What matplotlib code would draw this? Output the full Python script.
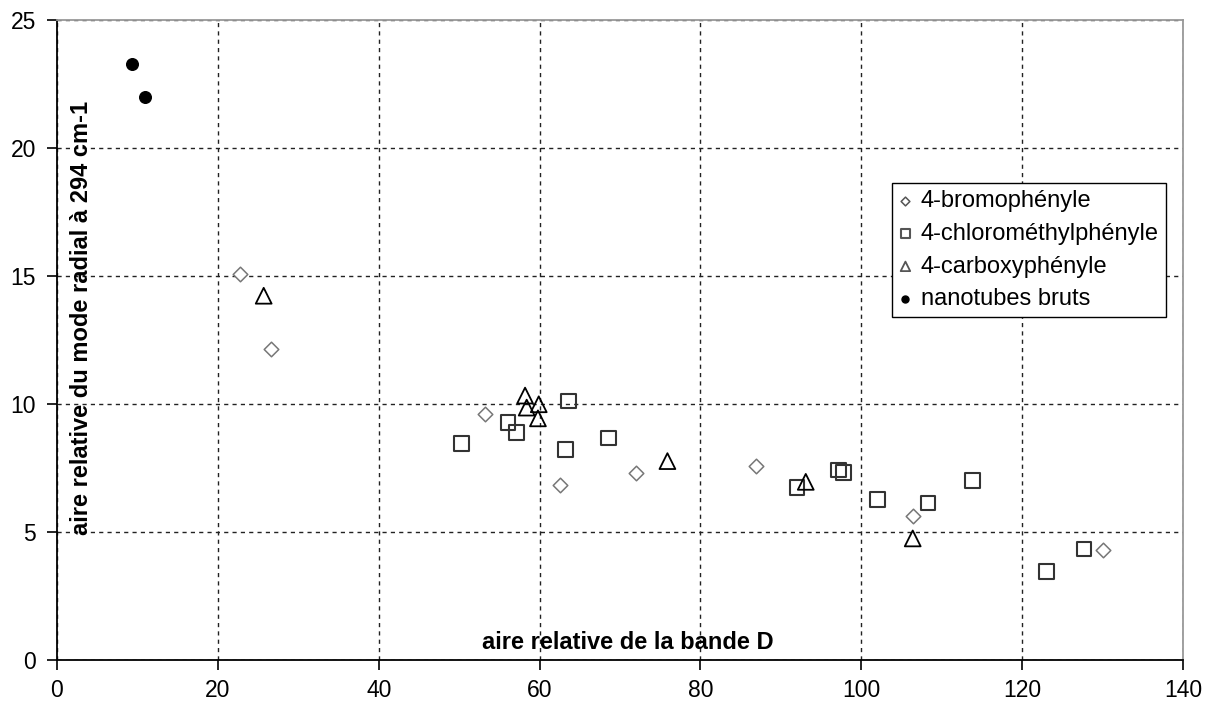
import matplotlib
matplotlib.use("Agg")
import matplotlib.pyplot as plt

plt.rcParams["font.family"] = ["Liberation Sans", "DejaVu Sans"]

# 4-bromophényle (losanges)
bromo_x = [22.8, 26.6, 53.2, 62.6, 72.0, 86.9, 106.4, 130.0]
bromo_y = [15.07, 12.15, 9.6, 6.84, 7.32, 7.59, 5.61, 4.30]

# 4-chlorométhylphényle (carrés)
chloro_x = [50.3, 56.1, 57.1, 63.6, 63.2, 68.6, 92.0, 97.2, 97.8,
            102.0, 108.3, 113.8, 123.0, 127.7]
chloro_y = [8.46, 9.28, 8.88, 10.12, 8.23, 8.68, 6.74, 7.42, 7.32,
            6.28, 6.13, 7.02, 3.45, 4.34]

# 4-carboxyphényle (triangles)
carboxy_x = [25.7, 58.2, 58.4, 59.9, 59.8, 75.9, 93.1, 106.4]
carboxy_y = [14.23, 10.33, 9.86, 9.99, 9.44, 7.77, 6.96, 4.75]

# nanotubes bruts (points pleins)
bruts_x = [9.3, 10.95]
bruts_y = [23.28, 21.99]

fig = plt.figure(figsize=(12.05, 7.05), dpi=100)
ax = fig.add_axes([0.0473, 0.0638, 0.9344, 0.9078])

ax.scatter(bromo_x, bromo_y, marker="D", s=55, facecolors="white",
           edgecolors="#777777", linewidths=1.1, label="4-bromophényle",
           zorder=3)
ax.scatter(chloro_x, chloro_y, marker="s", s=110, facecolors="none",
           edgecolors="#333333", linewidths=1.5,
           label="4-chlorométhylphényle", zorder=3)
ax.scatter(carboxy_x, carboxy_y, marker="^", s=130, facecolors="none",
           edgecolors="black", linewidths=1.3, label="4-carboxyphényle",
           zorder=3)
ax.scatter(bruts_x, bruts_y, marker="o", s=70, color="black",
           label="nanotubes bruts", zorder=3)

ax.set_xlim(0, 140)
ax.set_ylim(0, 25)
ax.set_xticks(range(0, 141, 20))
ax.set_yticks(range(0, 26, 5))
ax.tick_params(labelsize=16.5, length=7, width=1.2, direction="out")
ax.tick_params(axis="x", pad=7)
ax.tick_params(axis="y", pad=8)
ax.grid(True, color="#222222", ls=(0, (3, 3)), lw=1.0)
ax.set_axisbelow(True)
for s in ("left", "bottom"):
    ax.spines[s].set_color("black")
    ax.spines[s].set_linewidth(1.3)
for s in ("top", "right"):
    ax.spines[s].set_color("#999999")
    ax.spines[s].set_linewidth(1.3)

ax.text(0.022, 0.535, "aire relative du mode radial à 294 cm-1",
        transform=ax.transAxes, rotation=90, ha="center", va="center",
        fontsize=17, fontweight="bold")
ax.text(0.507, 0.028, "aire relative de la bande D",
        transform=ax.transAxes, ha="center", va="center",
        fontsize=17, fontweight="bold")

leg = ax.legend(loc="upper left", bbox_to_anchor=(0.742, 0.745),
                borderaxespad=0, fontsize=17, fancybox=False,
                edgecolor="black", framealpha=1, handlelength=0.5,
                handletextpad=0.4, markerscale=0.6, labelspacing=0.45,
                borderpad=0.3)
leg.get_frame().set_linewidth(1.0)
for h in leg.legend_handles[:3]:
    h.set_edgecolor("#555555")

fig.savefig("out.png", dpi=100)
